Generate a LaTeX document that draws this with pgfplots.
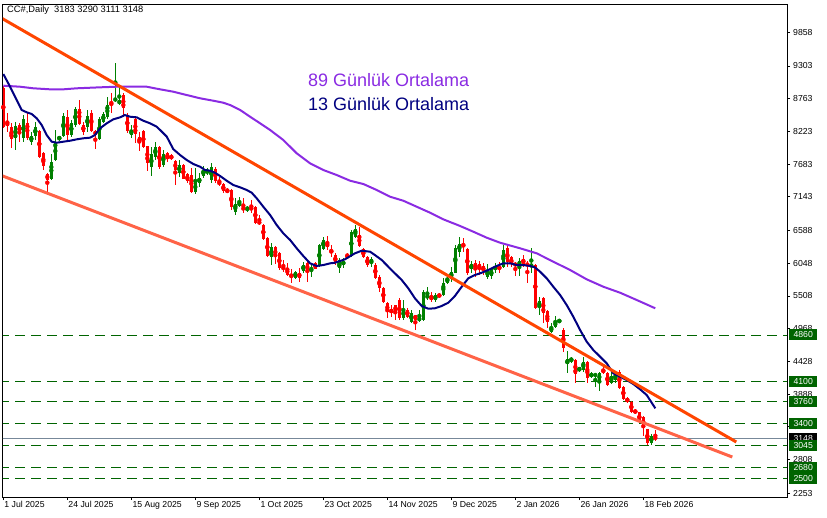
\documentclass[border=0pt]{standalone}
\usepackage{pgfplots}
\pgfplotsset{compat=1.18}
\usepackage{pgfplotstable}
\usepackage{fontspec}
\setmainfont{Liberation Sans}
\definecolor{upc}{RGB}{0,128,0}
\definecolor{dnc}{RGB}{255,0,0}
\definecolor{lvl}{RGB}{0,100,0}
\definecolor{ma89}{RGB}{138,43,226}
\definecolor{ma13}{RGB}{0,0,128}
\definecolor{tr1}{RGB}{255,69,0}
\definecolor{tr2}{RGB}{255,99,71}
\definecolor{cur}{RGB}{119,136,153}
\newcommand\tf{\fontsize{8.7}{10}\selectfont}

\pgfplotstableread{
k o h l c
0 8939 8972 8280 8295
1 8378 8526 8213 8312
2 8295 8361 7949 8097
3 8114 8378 7916 8312
4 8328 8361 8048 8196
5 8114 8493 8048 8427
6 8361 8526 8081 8114
7 8048 8213 7998 8147
8 8147 8378 8081 8295
9 8229 8246 7790 7800
10 7866 7880 7586 7652
11 7520 7530 7223 7421
12 7437 7850 7420 7718
13 7751 8246 7740 8048
14 8081 8150 8070 8147
15 8147 8526 8130 8477
16 8460 8576 8081 8163
17 8163 8411 8130 8361
18 8328 8625 8295 8592
19 8592 8741 8328 8345
20 8328 8378 8163 8213
21 8295 8576 8213 8477
22 8526 8576 8213 8229
23 8229 8240 7932 8163
24 8097 8460 8081 8427
25 8378 8543 8361 8510
26 8460 8790 8427 8658
27 8691 8856 8526 8658
28 8724 9352 8708 8774
29 8675 8939 8658 8741
30 8823 8856 8460 8609
31 8493 8526 8196 8229
32 8163 8328 8114 8246
33 8427 8444 8031 8180
34 8130 8213 7899 8031
35 8229 8240 7950 7965
36 7982 7990 7569 7701
37 7635 7965 7487 7850
38 7800 8048 7751 7965
39 7965 7975 7602 7635
40 7668 7916 7635 7850
41 7866 7875 7718 7767
42 7833 7845 7750 7767
43 7734 7751 7338 7586
44 7536 7751 7470 7668
45 7668 7680 7430 7437
46 7520 7530 7371 7404
47 7503 7619 7206 7223
48 7223 7619 7190 7388
49 7371 7536 7305 7454
50 7487 7652 7454 7586
51 7536 7619 7503 7586
52 7421 7701 7371 7635
53 7602 7635 7371 7404
54 7388 7470 7322 7355
55 7355 7371 7206 7239
56 7256 7289 7206 7223
57 7256 7265 6926 6975
58 6893 7124 6843 7025
59 6992 7140 6975 7058
60 6975 7124 6876 6926
61 6926 6992 6893 6975
62 6975 7091 6876 6926
63 6975 6985 6700 6711
64 6728 6843 6678 6711
65 6678 6690 6431 6447
66 6464 6475 6150 6167
67 6150 6381 6018 6315
68 6315 6325 6035 6150
69 6216 6233 5936 5969
70 5985 6101 5903 5952
71 5969 6051 5837 5853
72 5853 5952 5721 5837
73 5804 5915 5795 5903
74 5886 5969 5738 5804
75 5919 6068 5886 6018
76 6051 6101 5738 5919
77 5936 6051 5820 5969
78 6051 6060 5945 5952
79 6018 6360 5985 6348
80 6282 6480 6266 6431
81 6381 6497 6266 6315
82 6266 6348 6150 6216
83 6183 6216 6018 6051
84 5969 6134 5886 6101
85 6018 6134 5969 6084
86 6167 6216 6134 6150
87 6183 6596 6150 6563
88 6480 6678 6464 6612
89 6513 6645 6315 6332
90 6282 6299 6134 6150
91 6150 6167 5985 6018
92 6051 6150 5985 6117
93 6018 6051 5787 5804
94 5820 5853 5573 5639
95 5639 5655 5391 5408
96 5391 5400 5144 5243
97 5292 5358 5160 5226
98 5358 5365 5111 5243
99 5441 5474 5111 5144
100 5144 5441 5111 5292
101 5276 5309 5150 5160
102 5078 5276 5061 5226
103 5193 5200 4946 5111
104 5094 5276 5078 5160
105 5111 5606 5094 5573
106 5474 5655 5441 5523
107 5507 5573 5408 5441
108 5441 5556 5408 5523
109 5540 5556 5474 5490
110 5523 5804 5507 5721
111 5721 5853 5705 5804
112 5787 5985 5738 5903
113 5886 6348 5880 6299
114 6233 6480 6150 6365
115 6365 6464 6233 6315
116 6282 6299 5853 5886
117 5952 6084 5886 6035
118 6051 6101 5820 5969
119 6035 6084 5853 5952
120 6002 6051 5853 5919
121 5820 6035 5787 5936
122 5837 5969 5787 5952
123 5952 6051 5886 5985
124 5985 6068 5886 5952
125 5985 6348 5975 6266
126 6299 6348 5985 6068
127 6150 6160 5985 6035
128 6051 6068 5837 6002
129 6002 6134 5837 6084
130 6117 6183 5985 6035
131 6051 6084 5721 6002
132 6002 6299 5886 6018
133 6018 6030 5292 5309
134 5325 5490 5193 5424
135 5474 5490 5061 5226
136 5259 5276 4979 5078
137 4913 5061 4896 4995
138 4995 5177 4979 5094
139 5094 5100 5085 5100
140 4946 4979 4583 4649
141 4385 4599 4236 4467
142 4434 4500 4401 4484
143 4451 4460 4071 4220
144 4269 4340 4253 4335
145 4286 4500 4253 4418
146 4418 4434 4071 4154
147 4170 4253 4154 4236
148 4187 4236 4005 4220
149 4104 4253 3939 4236
150 4302 4335 4220 4236
151 4236 4253 4022 4038
152 4071 4253 4055 4187
153 4121 4253 4071 4236
154 4253 4286 3972 3989
155 4005 4022 3791 3807
156 3824 3840 3741 3758
157 3758 3774 3576 3593
158 3626 3642 3560 3576
159 3593 3600 3411 3428
160 3510 3520 3197 3345
161 3312 3320 3048 3081
162 3081 3230 3048 3197
163 3183 3290 3111 3148
}\candles

\pgfplotstableread{
k v
0 9170
1.7 8960
3.35 8741
4.6 8576
5.85 8538
7.1 8510
8.35 8439
9.6 8328
10.85 8163
12.1 8053
13.35 8036
15 8053
16.7 8069
18.35 8092
20 8109
21.7 8119
22.9 8163
24.2 8274
25.85 8356
27.5 8422
29.2 8455
30.4 8493
31.7 8465
33.35 8455
35 8399
36.7 8356
38.35 8300
39.2 8246
40.85 8138
42.5 7930
44.2 7833
45.85 7751
47.5 7685
49.2 7640
50.4 7586
51.7 7574
52.9 7541
54.2 7487
55.85 7409
57.5 7338
59.2 7300
60.85 7256
62.1 7211
63.35 7119
65 6980
66.7 6843
68.35 6678
70 6541
71.7 6431
73.35 6294
75 6167
76.7 6046
78.35 6002
80 6018
81.7 6046
82.9 6056
85.4 6112
87.9 6211
89.6 6254
91.7 6238
92.9 6183
94.6 6101
96.25 5990
97.9 5881
99.6 5771
101.25 5634
102.9 5469
104.6 5342
106.25 5297
107.9 5304
109.6 5342
111.25 5396
112.9 5507
114.6 5660
116.25 5799
117.9 5853
119.6 5891
121.25 5936
122.9 5990
125 6046
126.7 6046
128.35 6018
130 6018
131.7 6002
132.9 5980
134.2 5908
135.85 5799
137.5 5660
139.2 5523
140.85 5358
142.5 5165
144.2 4946
145.85 4753
147.5 4616
149.2 4505
150.85 4396
152.5 4231
154.2 4175
155.85 4121
157.5 4055
159.2 3967
160.85 3873
163 3654
}\maA

\pgfplotstableread{
k v
0 8977
4.2 8960
7.5 8934
11.7 8917
15 8917
18.35 8934
24.2 8950
28.35 8960
35.85 8960
39.2 8917
42.5 8878
45.85 8823
49.2 8769
52.5 8729
55 8696
56.7 8658
59.2 8576
61.7 8465
64.2 8356
66.7 8246
70 8081
73.35 7861
76.7 7696
80 7586
83.35 7503
86.7 7409
90 7355
93.35 7256
96.7 7145
100 7079
103.35 6980
106.7 6881
110 6772
114.2 6662
117.5 6568
120.85 6469
124.2 6386
129.2 6294
133.35 6211
137.5 6073
141.7 5936
145.85 5782
150 5660
154.2 5561
158.35 5441
163 5304
}\maB

\begin{document}
\begin{tikzpicture}[x=1pt,y=1pt]
\useasboundingbox (0,0) rectangle (827,517);
\begin{axis}[at={(3pt,20pt)}, anchor=south west, scale only axis,
  width=784pt, height=492pt,
  xmin=-0.075, xmax=195.925, ymin=2190.5, ymax=10308.5,
  axis line style={line width=1pt, black},
  clip mode=individual,
  tick align=outside, major tick length=3pt,
  tick style={black, line width=0.8pt},
  xtick={0,16,32,48,64,80,96,112,128,144,160},
  xticklabels={1 Jul 2025, 24 Jul 2025, 15 Aug 2025, 9 Sep 2025, 1 Oct 2025, 23 Oct 2025, 14 Nov 2025, 9 Dec 2025, 2 Jan 2026, 26 Jan 2026, 18 Feb 2026},
  xtick pos=left, ytick pos=right, yticklabel pos=right,
  xticklabel style={font=\tf, anchor=north west, inner sep=1pt},
  ytick={9858,9303,8763,8223,7683,7143,6588,6048,5508,4968,4428,3888,3348,2808,2253},
  yticklabels={9858,9303,8763,8223,7683,7143,6588,6048,5508,4968,4428,3888,3348,2808,2253},
  yticklabel style={font=\tf, anchor=west, inner sep=1pt, xshift=2pt},
  lvlline/.style={draw=lvl, line width=1pt, dash pattern=on 10pt off 6pt, forget plot},
]
% levels
\addplot[lvlline] coordinates {(-1,4860) (200,4860)};
\addplot[lvlline] coordinates {(-1,4100) (200,4100)};
\addplot[lvlline] coordinates {(-1,3760) (200,3760)};
\addplot[lvlline] coordinates {(-1,3400) (200,3400)};
\addplot[lvlline] coordinates {(-1,3045) (200,3045)};
\addplot[lvlline] coordinates {(-1,2680) (200,2680)};
\addplot[lvlline] coordinates {(-1,2500) (200,2500)};
\addplot[draw=cur, line width=1pt, forget plot] coordinates {(-1,3148) (200,3148)};
% wicks
\addplot[color=upc, only marks, mark=none, forget plot,
  restrict expr to domain={\thisrow{c}-\thisrow{o}}{0:100000},
  error bars/.cd, y dir=both, y explicit, error mark=none,
  error bar style={line width=1pt, draw=upc}]
  table[x=k, y expr={(\thisrow{h}+\thisrow{l})/2}, y error expr={(\thisrow{h}-\thisrow{l})/2}] {\candles};
\addplot[color=dnc, only marks, mark=none, forget plot,
  restrict expr to domain={\thisrow{c}-\thisrow{o}}{-100000:-0.5},
  error bars/.cd, y dir=both, y explicit, error mark=none,
  error bar style={line width=1pt, draw=dnc}]
  table[x=k, y expr={(\thisrow{h}+\thisrow{l})/2}, y error expr={(\thisrow{h}-\thisrow{l})/2}] {\candles};
% bodies
\addplot[color=upc, only marks, mark=none, forget plot,
  restrict expr to domain={\thisrow{c}-\thisrow{o}}{0:100000},
  error bars/.cd, y dir=both, y explicit, error mark=none,
  error bar style={line width=3pt, draw=upc}]
  table[x=k, y expr={(\thisrow{o}+\thisrow{c})/2}, y error expr={max(abs(\thisrow{c}-\thisrow{o})/2,9)}] {\candles};
\addplot[color=dnc, only marks, mark=none, forget plot,
  restrict expr to domain={\thisrow{c}-\thisrow{o}}{-100000:-0.5},
  error bars/.cd, y dir=both, y explicit, error mark=none,
  error bar style={line width=3pt, draw=dnc}]
  table[x=k, y expr={(\thisrow{o}+\thisrow{c})/2}, y error expr={max(abs(\thisrow{c}-\thisrow{o})/2,9)}] {\candles};
% moving averages
\addplot[draw=ma89, line width=2pt, forget plot] table[x=k, y=v] {\maB};
\addplot[draw=ma13, line width=2pt, forget plot] table[x=k, y=v] {\maA};
% trend lines
\addplot[draw=tr1, line width=3pt, forget plot] coordinates {(-0.5,10094) (183.25,3098)};
\addplot[draw=tr2, line width=3pt, forget plot] coordinates {(-0.5,7496) (182.25,2850)};
% anchors for price boxes
\coordinate (B4860) at (axis cs:195.925,4860);
\coordinate (B4100) at (axis cs:195.925,4100);
\coordinate (B3760) at (axis cs:195.925,3760);
\coordinate (B3400) at (axis cs:195.925,3400);
\coordinate (B3148) at (axis cs:195.925,3148);
\coordinate (B3045) at (axis cs:195.925,3045);
\coordinate (B2680) at (axis cs:195.925,2680);
\coordinate (B2500) at (axis cs:195.925,2500);
\end{axis}
\tikzset{pbox/.style={fill=lvl, text=white, font=\tf, anchor=west, minimum width=28pt, minimum height=11pt, inner sep=0pt}}
\node[pbox, fill=black] at ([xshift=2pt,yshift=0.5pt]B3148) {3148};
\node[pbox] at ([xshift=2pt,yshift=1pt]B4860) {4860};
\node[pbox] at ([xshift=2pt]B4100) {4100};
\node[pbox] at ([xshift=2pt]B3760) {3760};
\node[pbox] at ([xshift=2pt]B3400) {3400};
\node[pbox] at ([xshift=2pt]B3045) {3045};
\node[pbox] at ([xshift=2pt]B2680) {2680};
\node[pbox] at ([xshift=2pt]B2500) {2500};
\node[anchor=west, font=\fontsize{9.3}{11}\selectfont, inner sep=0pt] at (7,507) {CC\#,Daily\ \ 3183 3290 3111 3148};
\node[anchor=west, inner sep=0pt, font=\fontsize{18}{20}\selectfont, text=ma89] at (308,437) {89 Günlük Ortalama};
\node[anchor=west, inner sep=0pt, font=\fontsize{18}{20}\selectfont, text=ma13] at (308,413) {13 Günlük Ortalama};
\end{tikzpicture}
\end{document}
